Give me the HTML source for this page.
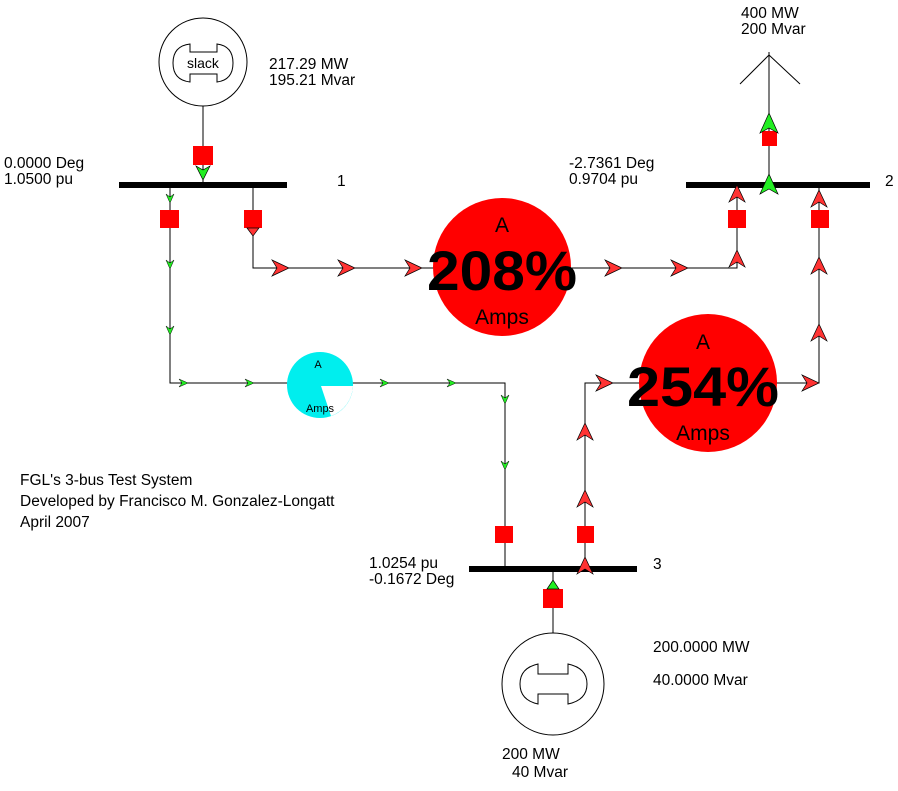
<!DOCTYPE html>
<html><head><style>
html,body{margin:0;padding:0;background:#fff;}
svg{display:block;}
text{font-family:"Liberation Sans","DejaVu Sans",sans-serif;font-size:15.5px;fill:#000;}
</style></head><body>
<svg width="898" height="791" viewBox="0 0 898 791" xmlns="http://www.w3.org/2000/svg">
<defs>
<g id="rR"><polygon points="-12,-8 5,0 -12,8 -7,0" fill="#f33" stroke="#000" stroke-width="0.7"/></g>
<g id="rU"><polygon points="-8,12 0,-5 8,12 0,7" fill="#f33" stroke="#000" stroke-width="0.7"/></g>
<g id="gU"><polygon points="-9,13 0,-7 9,13 0,8" fill="#2e2" stroke="#000" stroke-width="0.7"/></g>
<g id="gD"><polygon points="-4,-5 0,4 4,-5 0,-2" fill="#2e2" stroke="#000" stroke-width="0.5"/></g>
<g id="gR"><polygon points="-5,-4 4,0 -5,4 -2,0" fill="#2e2" stroke="#000" stroke-width="0.5"/></g>
</defs>
<g stroke="#000" stroke-width="1" fill="none">
<circle cx="203" cy="62" r="44"/>
<path d="M190,44 L190,52 L217,52 L217,44 Q233,46 233,63 Q233,80 217,82 L217,74 L190,74 L190,82 Q173,80 173,63 Q173,46 190,44 Z"/>
<line x1="203" y1="106" x2="203" y2="185"/>
<polyline points="170,185 170,383 505,383 505,569"/>
<polyline points="253,185 253,268 737,268 737,185"/>
<polyline points="819,185 819,383 585,383 585,569"/>
<line x1="769" y1="185" x2="769" y2="52"/>
<line x1="769" y1="55" x2="740" y2="84"/>
<line x1="769" y1="55" x2="800" y2="84"/>
<line x1="553" y1="569" x2="553" y2="633"/>
<circle cx="553" cy="684" r="51"/>
<path d="M538,664 L538,674 L568,674 L568,664 Q587,668 587,684 Q587,700 568,704 L568,694 L538,694 L538,704 Q520,700 520,684 Q520,668 538,664 Z"/>
</g>
<rect x="119" y="182" width="168" height="6" fill="#000"/>
<rect x="686" y="182" width="184" height="6" fill="#000"/>
<rect x="469" y="566" width="168" height="6" fill="#000"/>
<circle cx="502" cy="267" r="69" fill="#f00"/>
<circle cx="708" cy="383" r="69" fill="#f00"/>
<circle cx="320" cy="385" r="33" fill="#0ee"/>
<path d="M321,386 L353,386 A33,33 0 0 1 331,416 Z" fill="#fff"/>
<g fill="#f00">
<rect x="193" y="146" width="20" height="19"/>
<rect x="160" y="210" width="19" height="18"/>
<rect x="244" y="210" width="18" height="18"/>
<rect x="728" y="210" width="18" height="18"/>
<rect x="811" y="210" width="18" height="18"/>
<rect x="762" y="131" width="15" height="15"/>
<rect x="495" y="526" width="18" height="17"/>
<rect x="577" y="526" width="17" height="17"/>
<rect x="543" y="589" width="20" height="19"/>
</g>
<polygon points="196,166 203,180 210,166 203,170" fill="#2e2" stroke="#000" stroke-width="0.7"/>
<polygon points="247,228 253,236 259,228" fill="#f33" stroke="#000" stroke-width="0.7"/>
<use href="#gD" x="170" y="199"/><use href="#gD" x="170" y="265"/><use href="#gD" x="170" y="331"/>
<use href="#gR" x="184" y="383"/><use href="#gR" x="250" y="383"/><use href="#gR" x="385" y="383"/><use href="#gR" x="452" y="383"/>
<use href="#gD" x="505" y="400"/><use href="#gD" x="505" y="466"/>
<use href="#rR" x="284" y="268"/><use href="#rR" x="350" y="268"/><use href="#rR" x="417" y="268"/><use href="#rR" x="617" y="268"/><use href="#rR" x="683" y="268"/>
<use href="#rU" x="737" y="255"/><use href="#rU" x="737" y="190"/>
<use href="#rU" x="819" y="195"/><use href="#rU" x="819" y="262"/><use href="#rU" x="819" y="329"/>
<use href="#rR" x="608" y="383"/><use href="#rR" x="814" y="383"/>
<use href="#rU" x="585" y="428"/><use href="#rU" x="585" y="495"/><use href="#rU" x="585" y="562"/>
<use href="#gU" x="769" y="120"/><use href="#gU" x="769" y="181"/>
<polygon points="547,589 553,580 559,589" fill="#2e2" stroke="#000" stroke-width="0.7"/>
<text x="187" y="68" style="font-size:14px">slack</text>
<text x="269" y="69">217.29 MW</text>
<text x="269" y="85">195.21 Mvar</text>
<text x="4" y="168">0.0000 Deg</text>
<text x="4" y="184">1.0500 pu</text>
<text x="337" y="186">1</text>
<text x="569" y="168">-2.7361 Deg</text>
<text x="569" y="184">0.9704 pu</text>
<text x="885" y="186">2</text>
<text x="741" y="18">400 MW</text>
<text x="741" y="34">200 Mvar</text>
<text x="20" y="485">FGL's 3-bus Test System</text>
<text x="20" y="506">Developed by Francisco M. Gonzalez-Longatt</text>
<text x="20" y="527">April 2007</text>
<text x="369" y="568">1.0254 pu</text>
<text x="369" y="584">-0.1672 Deg</text>
<text x="653" y="569">3</text>
<text x="653" y="652">200.0000 MW</text>
<text x="653" y="685">40.0000 Mvar</text>
<text x="502" y="759">200 MW</text>
<text x="512" y="777">40 Mvar</text>
<text x="502" y="232" text-anchor="middle" style="font-size:21px">A</text>
<text x="502" y="290" text-anchor="middle" textLength="150" lengthAdjust="spacingAndGlyphs" style="font-size:56px;font-weight:bold">208%</text>
<text x="502" y="324" text-anchor="middle" style="font-size:21px">Amps</text>
<text x="703" y="349" text-anchor="middle" style="font-size:21px">A</text>
<text x="703" y="406" text-anchor="middle" textLength="152" lengthAdjust="spacingAndGlyphs" style="font-size:56px;font-weight:bold">254%</text>
<text x="703" y="440" text-anchor="middle" style="font-size:21px">Amps</text>
<text x="318" y="368" text-anchor="middle" style="font-size:11px">A</text>
<text x="320" y="412" text-anchor="middle" style="font-size:11px">Amps</text>
</svg>
</body></html>
